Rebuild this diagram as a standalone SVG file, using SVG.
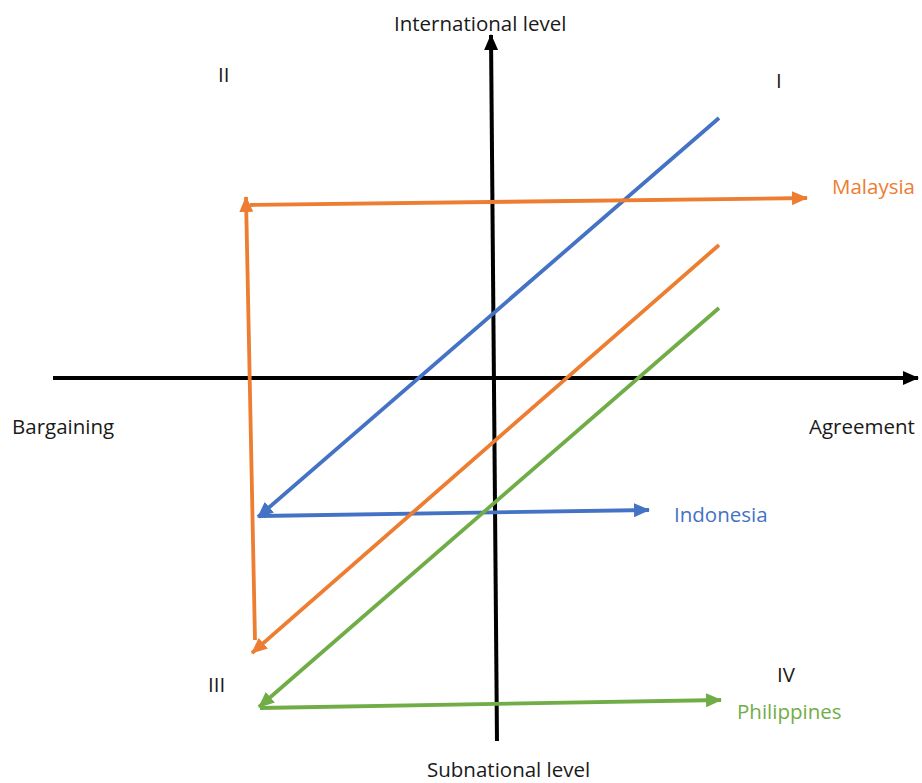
<svg xmlns="http://www.w3.org/2000/svg" width="922" height="783" viewBox="0 0 922 783">
<style>
text{font-family:"Open Sans","Liberation Sans",sans-serif;font-size:20.5px;fill:#1a1a1a}
.k{stroke:#000;stroke-width:4;fill:none}
.b{stroke:#4472c4;stroke-width:3.8;fill:none}
.o{stroke:#ed7d31;stroke-width:3.8;fill:none}
.g{stroke:#70ad47;stroke-width:3.8;fill:none}
</style>
<defs>
<marker id="ak" markerUnits="userSpaceOnUse" viewBox="0 0 16 14" refX="15" refY="7" markerWidth="16" markerHeight="14" orient="auto"><path d="M0,0 L16,7 L0,14 Z" fill="#000"/></marker>
<marker id="ab" markerUnits="userSpaceOnUse" viewBox="0 0 16 14" refX="15" refY="7" markerWidth="16" markerHeight="14" orient="auto"><path d="M0,0 L16,7 L0,14 Z" fill="#4472c4"/></marker>
<marker id="ao" markerUnits="userSpaceOnUse" viewBox="0 0 16 14" refX="15" refY="7" markerWidth="16" markerHeight="14" orient="auto"><path d="M0,0 L16,7 L0,14 Z" fill="#ed7d31"/></marker>
<marker id="ag" markerUnits="userSpaceOnUse" viewBox="0 0 16 14" refX="15" refY="7" markerWidth="16" markerHeight="14" orient="auto"><path d="M0,0 L16,7 L0,14 Z" fill="#70ad47"/></marker>
</defs>
<g id="connectors">
<line class="k" x1="53" y1="378" x2="918" y2="378" marker-end="url(#ak)"/>
<line class="k" x1="497" y1="741" x2="491" y2="35" marker-end="url(#ak)"/>
<line class="b" x1="719" y1="118" x2="258" y2="517" marker-end="url(#ab)"/>
<line class="b" x1="260" y1="516" x2="649" y2="510" marker-end="url(#ab)"/>
<line class="o" x1="250" y1="205" x2="807" y2="198" marker-end="url(#ao)"/>
<line class="o" x1="255" y1="640" x2="246" y2="197" marker-end="url(#ao)"/>
<line class="o" x1="719" y1="245" x2="252" y2="653" marker-end="url(#ao)"/>
<line class="g" x1="719" y1="308" x2="259" y2="707" marker-end="url(#ag)"/>
<line class="g" x1="260" y1="708" x2="721" y2="700" marker-end="url(#ag)"/>
</g>
<g id="labels">
<text x="394" y="31">International level</text>
<text x="427" y="777">Subnational level</text>
<text x="12" y="434">Bargaining</text>
<text x="809" y="434">Agreement</text>
<text x="218" y="82">II</text>
<text x="776" y="88">I</text>
<text x="208" y="692">III</text>
<text x="777" y="682">IV</text>
<text x="832" y="194" style="fill:#ed7d31">Malaysia</text>
<text x="674" y="522" style="fill:#4472c4">Indonesia</text>
<text x="737" y="719" style="fill:#70ad47">Philippines</text>
</g>
</svg>
